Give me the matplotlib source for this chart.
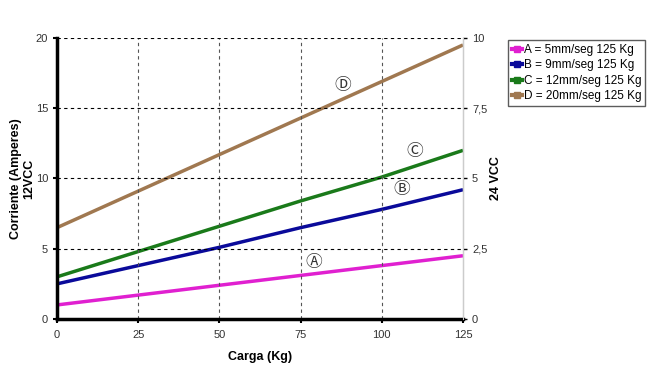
import matplotlib.pyplot as plt
from matplotlib.ticker import FixedLocator
from matplotlib.lines import Line2D

plt.rcParams['font.family'] = ['Liberation Sans', 'DejaVu Sans']

# Data
carga = [0, 25, 50, 75, 100, 125]
serie_a = [1.0, 1.7, 2.4, 3.1, 3.8, 4.5]
serie_b = [2.5, 3.8, 5.1, 6.5, 7.8, 9.2]
serie_c = [3.0, 4.8, 6.6, 8.4, 10.1, 12.0]
serie_d = [6.5, 9.1, 11.7, 14.3, 16.9, 19.5]
nombres = ['A = 5mm/seg 125 Kg', 'B = 9mm/seg 125 Kg',
           'C = 12mm/seg 125 Kg', 'D = 20mm/seg 125 Kg']
colores = ['#e020d0', '#0a0a9a', '#1a7a1a', '#a07850']
letras = ['\u24b6', '\u24b7', '\u24b8', '\u24b9']
pos_letras = [(79, 4.05), (106, 9.2), (110, 11.9), (88, 16.6)]

fig = plt.figure(figsize=(6.5, 3.72), dpi=100)
ax = fig.add_axes([0.0877, 0.1425, 0.6246, 0.7555])

series = [serie_a, serie_b, serie_c, serie_d]
for s, n, c in zip(series, nombres, colores):
    ax.plot(carga, s, color=c, lw=2.5, label=n, solid_capstyle='butt')

for (x, y), l in zip(pos_letras, letras):
    ax.text(x, y, l, fontsize=12, ha='center', va='center', color='#333333',
            family=['Noto Sans CJK JP', 'DejaVu Sans'])

ax.set_xlim(0, 125)
ax.set_ylim(0, 20)
ax.set_xticks([0, 25, 50, 75, 100, 125])
ax.set_yticks([0, 5, 10, 15, 20])
ax.tick_params(labelsize=8, length=3, width=1.5, colors='black', labelcolor='#333333')
ax.tick_params(axis='x', pad=5)

for x in [25, 50, 75, 100]:
    ax.axvline(x, color='#555555', ls=(0, (3, 3)), lw=0.8)
for y in [5, 10, 15, 20]:
    ax.axhline(y, color='black', ls=(0, (3, 3)), lw=0.8)

ax.spines['left'].set_linewidth(2.5)
ax.spines['bottom'].set_linewidth(2.5)
ax.spines['top'].set_visible(False)
ax.spines['right'].set_color('#cccccc')
ax.spines['right'].set_linewidth(1)

ax.set_xlabel('Carga (Kg)', fontsize=9, fontweight='bold', labelpad=8)
ax.set_ylabel('Corriente (Amperes)\n12VCC', fontsize=9, fontweight='bold', labelpad=0)

ax2 = ax.twinx()
ax2.set_ylim(0, 10)
ax2.yaxis.set_major_locator(FixedLocator([0, 2.5, 5, 7.5, 10]))
ax2.set_yticklabels(['0', '2,5', '5', '7,5', '10'])
ax2.tick_params(labelsize=8, length=3, width=1, colors='black', labelcolor='#333333')
for sp in ['top', 'left', 'bottom']:
    ax2.spines[sp].set_visible(False)
ax2.spines['right'].set_color('#cccccc')
ax2.set_ylabel('24 VCC', fontsize=9, fontweight='bold', labelpad=2)

hs = [Line2D([0], [0], color=c, lw=3, marker='s', markersize=5) for c in colores]
leg = fig.legend(hs, nombres, loc='upper left', bbox_to_anchor=(0.782, 0.892),
                 fontsize=8.5, frameon=True, fancybox=False, handlelength=0.9,
                 handletextpad=0.15, borderpad=0.3, labelspacing=0.3,
                 borderaxespad=0)
leg.get_frame().set_edgecolor('#333333')
leg.get_frame().set_linewidth(1)

fig.savefig('out.png', dpi=100)
